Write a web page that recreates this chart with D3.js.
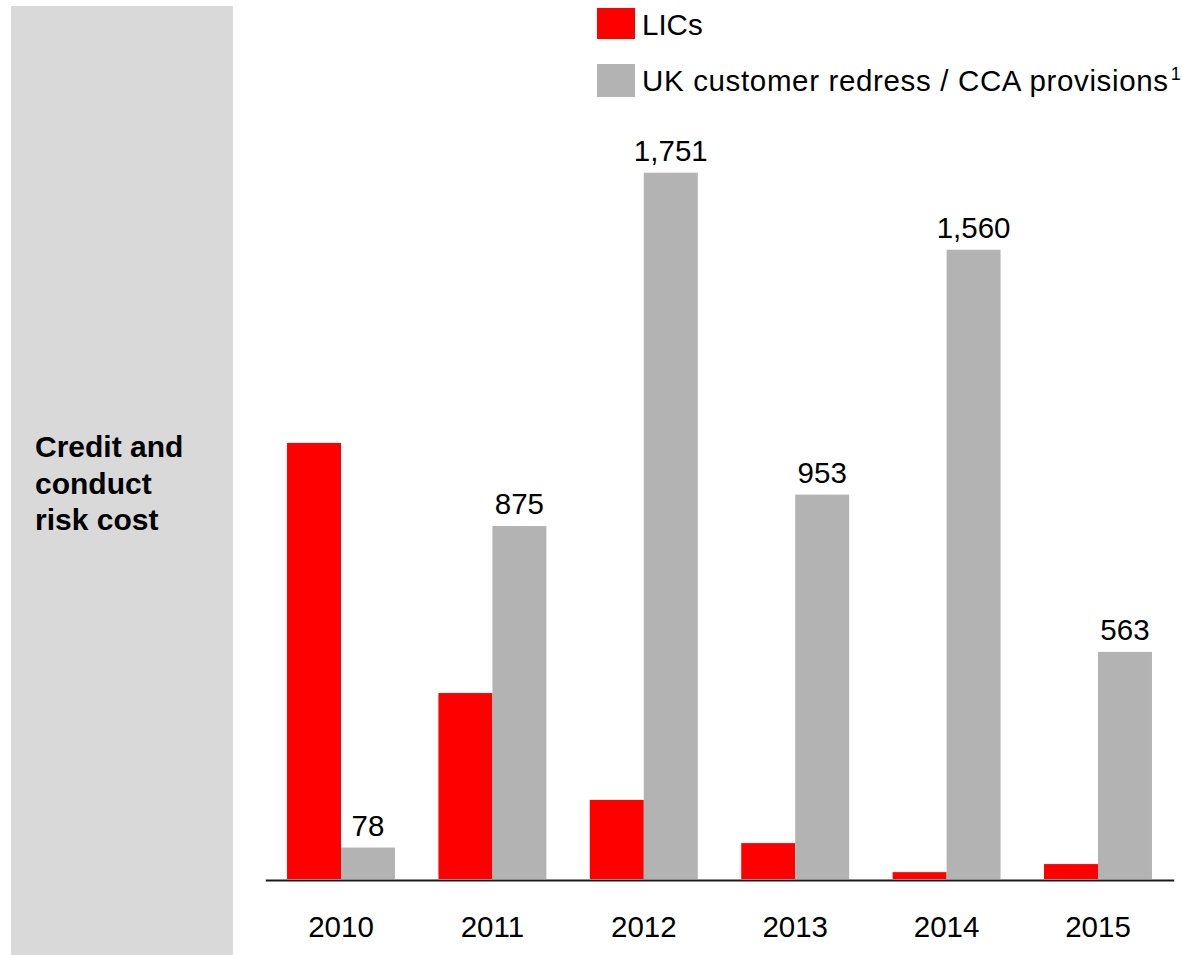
<!DOCTYPE html>
<html>
<head>
<meta charset="utf-8">
<script src="https://cdn.jsdelivr.net/npm/d3@7"></script>
<style>
  html, body { margin: 0; padding: 0; background: #fff; }
  svg { display: block; font-family: "Liberation Sans", Arial, sans-serif; }
</style>
</head>
<body>
<svg id="chart" width="1182" height="955"></svg>
<script>
// Credit and conduct risk cost by year (£m)
const years = ["2010", "2011", "2012", "2013", "2014", "2015"];
const lics = [1081, 461, 196, 89, 17, 37];
const redress = [78, 875, 1751, 953, 1560, 563];
const seriesNames = ["LICs", "UK customer redress / CCA provisions"];
const seriesColors = ["#ff0000", "#b3b3b3"];
const sideLabel = ["Credit and", "conduct", "risk cost"];

const svg = d3.select("#chart");

// Left-hand grey panel with the section title
svg.append("rect")
  .attr("x", 11).attr("y", 6)
  .attr("width", 222).attr("height", 949)
  .attr("fill", "#d9d9d9");

svg.append("text")
  .attr("x", 35).attr("y", 457)
  .attr("font-size", 30).attr("font-weight", "bold").attr("fill", "#000")
  .selectAll("tspan").data(sideLabel).join("tspan")
  .attr("x", 35).attr("dy", (d, i) => i === 0 ? 0 : 36.7)
  .text(d => d);

// Scales
const x = d3.scaleBand()
  .domain(years)
  .range([265.3, 1173.7])
  .paddingInner(0.287)
  .paddingOuter(0.1435);

const xs = d3.scaleBand()
  .domain(seriesNames)
  .range([0, x.bandwidth()]);

const y = d3.scaleLinear()
  .domain([0, 1751])
  .range([879, 172.7]);

const rows = years.map((yr, i) => ({ year: yr, values: [lics[i], redress[i]] }));

const groups = svg.append("g").selectAll("g").data(rows).join("g")
  .attr("transform", d => `translate(${x(d.year)},0)`);

groups.selectAll("rect")
  .data(d => d.values.map((v, j) => ({ key: seriesNames[j], value: v, j })))
  .join("rect")
  .attr("x", d => xs(d.key))
  .attr("y", d => y(d.value))
  .attr("width", xs.bandwidth())
  .attr("height", d => y(0) - y(d.value))
  .attr("fill", d => seriesColors[d.j]);

// Value labels for the redress series
groups.append("text")
  .attr("x", xs(seriesNames[1]) + xs.bandwidth() / 2)
  .attr("y", d => y(d.values[1]) - 12)
  .attr("text-anchor", "middle")
  .attr("font-size", 29.5).attr("fill", "#000")
  .text(d => d3.format(",")(d.values[1]));

// Baseline axis with year labels
const xAxis = d3.axisBottom(x).tickSize(0).tickPadding(0);
const axisG = svg.append("g")
  .attr("transform", `translate(0,${y(0) + 1})`)
  .call(xAxis);
axisG.select(".domain").attr("stroke", "#1a1a1a").attr("stroke-width", 2);
axisG.selectAll(".tick text")
  .attr("font-size", 29.5)
  .attr("font-family", "Liberation Sans, Arial, sans-serif")
  .attr("fill", "#000")
  .attr("dy", 0)
  .attr("y", 57);

// Legend
const legend = svg.append("g");
const legendY = [8, 64];
seriesNames.forEach((name, i) => {
  legend.append("rect")
    .attr("x", 597).attr("y", legendY[i])
    .attr("width", 38).attr("height", i === 0 ? 31 : 33)
    .attr("fill", seriesColors[i]);
  const t = legend.append("text")
    .attr("x", 642).attr("y", legendY[i] + 27)
    .attr("font-size", 29.5).attr("fill", "#000")
    .attr("letter-spacing", i === 1 ? 0.65 : 0)
    .text(name);
  if (i === 1) {
    t.append("tspan")
      .attr("font-size", 18).attr("dy", -11).attr("dx", 2)
      .text("1");
  }
});
</script>
</body>
</html>
